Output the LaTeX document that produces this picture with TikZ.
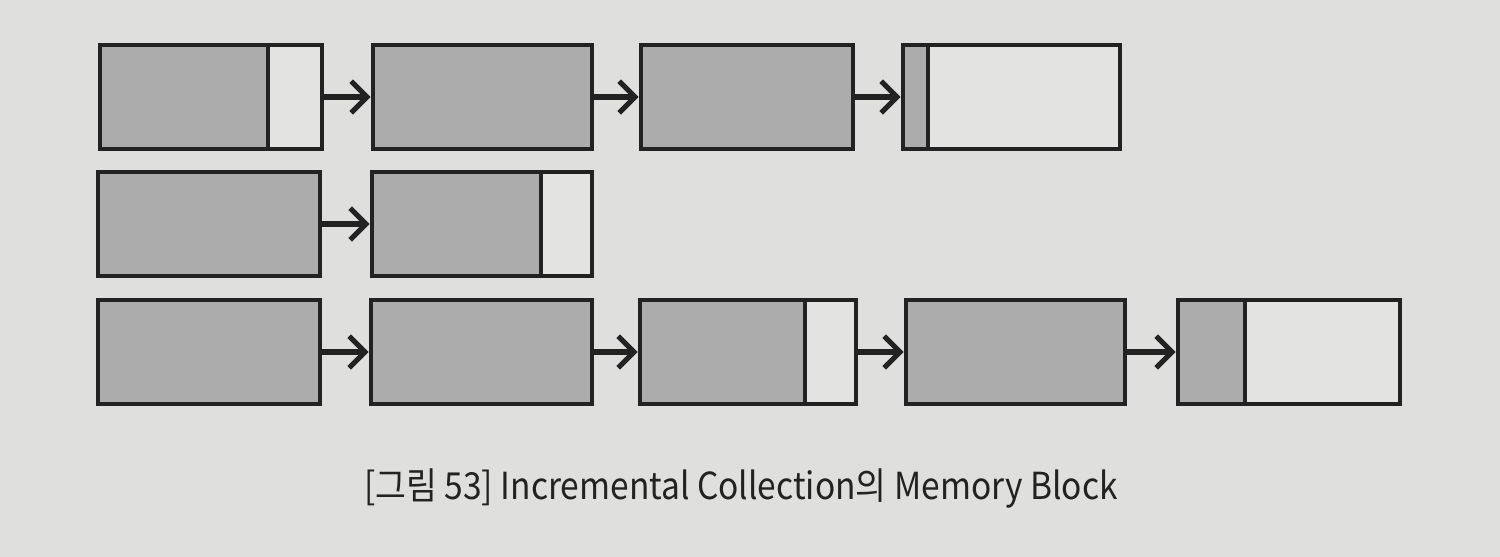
\documentclass[tikz,border=0pt]{standalone}
\usepackage{fontspec}
\newfontfamily\krfont[FakeStretch=0.9]{Noto Sans CJK KR}
\usetikzlibrary{arrows.meta, positioning, calc}
\definecolor{paper}{RGB}{223,223,221}
\definecolor{freegray}{RGB}{227,227,226}
\definecolor{usedgray}{RGB}{172,172,172}
\definecolor{inkgray}{RGB}{34,34,34}
\begin{document}
\begin{tikzpicture}[
  blk/.style={draw=inkgray, line width=1.3pt, fill=freegray, minimum height=1.04cm, inner sep=0pt},
  used/.style={fill=usedgray},
  link/.style={draw=inkgray, line width=1.5pt, -{Straight Barb[length=4.5pt,width=9pt]}}]
\fill[paper] (0,0) rectangle (15,5.57);
\useasboundingbox (0,0) rectangle (15,5.57);
% Row 1
\node[blk, minimum width=2.22cm] (a1) at (2.11,4.60) {};
\node[blk, used, minimum width=1.68cm, anchor=west] (a1u) at (a1.west) {};
\node[blk, used, minimum width=2.19cm] (a2) at (4.825,4.60) {};
\node[blk, used, minimum width=2.12cm] (a3) at (7.47,4.60) {};
\node[blk, minimum width=2.17cm] (a4) at (10.115,4.60) {};
\node[blk, used, minimum width=0.25cm, anchor=west] (a4u) at (a4.west) {};
\draw[link] (a1.east) -- (a2.west);
\draw[link] (a2.east) -- (a3.west);
\draw[link] (a3.east) -- (a4.west);
% Row 2
\node[blk, used, minimum width=2.22cm] (b1) at (2.09,3.33) {};
\node[blk, minimum width=2.20cm] (b2) at (4.82,3.33) {};
\node[blk, used, minimum width=1.69cm, anchor=west] (b2u) at (b2.west) {};
\draw[link] (b1.east) -- (b2.west);
% Row 3
\node[blk, used, minimum width=2.22cm] (c1) at (2.09,2.05) {};
\node[blk, used, minimum width=2.21cm] (c2) at (4.815,2.05) {};
\node[blk, minimum width=2.16cm] (c3) at (7.48,2.05) {};
\node[blk, used, minimum width=1.65cm, anchor=west] (c3u) at (c3.west) {};
\node[blk, used, minimum width=2.19cm] (c4) at (10.155,2.05) {};
\node[blk, minimum width=2.22cm] (c5) at (12.89,2.05) {};
\node[blk, used, minimum width=0.67cm, anchor=west] (c5u) at (c5.west) {};
\draw[link] (c1.east) -- (c2.west);
\draw[link] (c2.east) -- (c3.west);
\draw[link] (c3.east) -- (c4.west);
\draw[link] (c4.east) -- (c5.west);
% Caption
\node[font=\krfont\fontsize{10.6pt}{12pt}\selectfont, text=inkgray] (cap) at (7.41,0.69) {[그림 53] Incremental Collection의 Memory Block};
\end{tikzpicture}
\end{document}
